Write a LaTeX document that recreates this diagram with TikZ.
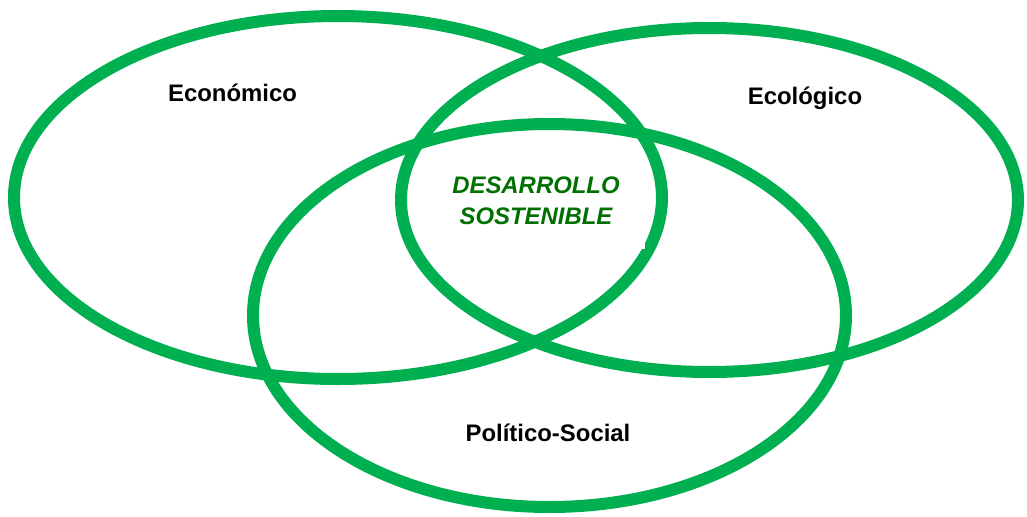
\documentclass[tikz,border=0pt]{standalone}
\usepackage{fontspec}
\setmainfont{Liberation Sans}
\usepackage{tikz}

\definecolor{ringgreen}{RGB}{0,176,80}
\definecolor{textgreen}{RGB}{0,112,0}

\begin{document}
\begin{tikzpicture}[x=0.025cm, y=0.025cm,
    ring/.style={draw=ringgreen, line width=0.3cm},
    area/.style={font=\fontsize{17}{22}\selectfont\bfseries, anchor=base, inner sep=0pt},
    goal/.style={area, text=textgreen, font=\fontsize{17}{22}\selectfont\bfseries\itshape}]
      \useasboundingbox (0,0) rectangle (1027,516);
      \draw[ring] (338,318.5) ellipse [x radius=324, y radius=181.5];
      \draw[ring] (709.5,316) ellipse [x radius=308.5, y radius=172];
      \draw[ring] (549.5,200.5) ellipse [x radius=296.5, y radius=191.5];
      % white box behind the centre text
      \fill[white] (424,267) rectangle (645,351);
      \node[area] (economico) at (232.5,415) {Económico};
      \node[area] (ecologico) at (805,412) {Ecológico};
      \node[area] (politico) at (548,75) {Político-Social};
      \node[goal] (desarrollo) at (536,323) {DESARROLLO};
      \node[goal] (sostenible) at (536,292) {SOSTENIBLE};
    \end{tikzpicture}
\end{document}
